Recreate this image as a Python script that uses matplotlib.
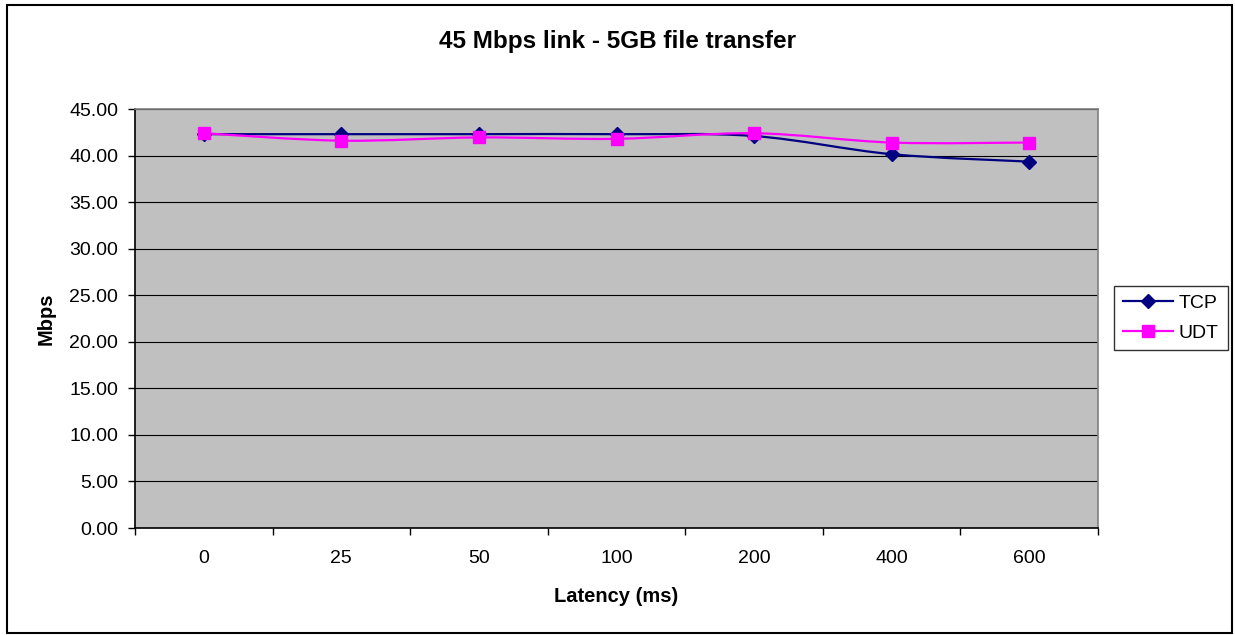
import matplotlib.pyplot as plt
from matplotlib.path import Path
from matplotlib.patches import PathPatch, Rectangle
from matplotlib.lines import Line2D

plt.rcParams['font.family'] = ['Liberation Sans', 'DejaVu Sans']

latency = ["0", "25", "50", "100", "200", "400", "600"]
tcp = [42.3, 42.3, 42.3, 42.3, 42.1, 40.15, 39.35]
udt = [42.4, 41.6, 41.95, 41.8, 42.4, 41.4, 41.4]

tcp_color = "#000080"
udt_color = "#FF00FF"


def smooth_path(xs, ys):
    # Excel-like smoothed line: Catmull-Rom converted to cubic Bezier segments
    pts = list(zip(xs, ys))
    verts = [pts[0]]
    codes = [Path.MOVETO]
    n = len(pts)
    for i in range(n - 1):
        p0 = pts[i - 1] if i > 0 else pts[i]
        p1 = pts[i]
        p2 = pts[i + 1]
        p3 = pts[i + 2] if i + 2 < n else pts[i + 1]
        c1 = (p1[0] + (p2[0] - p0[0]) / 6, p1[1] + (p2[1] - p0[1]) / 6)
        c2 = (p2[0] - (p3[0] - p1[0]) / 6, p2[1] - (p3[1] - p1[1]) / 6)
        verts += [c1, c2, p2]
        codes += [Path.CURVE4] * 3
    return Path(verts, codes)


fig = plt.figure(figsize=(12.35, 6.35), dpi=100)
ax = fig.add_axes([0.1093, 0.1685, 0.7798, 0.6598])
ax.set_facecolor("#C0C0C0")

x = list(range(len(latency)))
for vals, color, marker, ms in [(tcp, tcp_color, "D", 7.5), (udt, udt_color, "s", 8.5)]:
    ax.add_patch(PathPatch(smooth_path(x, vals), facecolor="none",
                           edgecolor=color, linewidth=1.6, zorder=3))
    ax.plot(x, vals, linestyle="none", marker=marker, markersize=ms,
            color=color, zorder=4)

ax.set_xlim(-0.5, len(latency) - 0.5)
ax.set_ylim(0, 45)
ax.set_yticks([i * 5 for i in range(10)])
ax.set_yticklabels([f"{i * 5:.2f}" for i in range(10)])
ax.set_xticks([i - 0.5 for i in range(len(latency) + 1)])
ax.set_xticklabels([])
ax.set_xticks(x, minor=True)
ax.set_xticklabels(latency, minor=True)
ax.tick_params(axis="x", which="minor", length=0, pad=16, labelsize=14)
ax.tick_params(axis="x", which="major", direction="out", length=5, width=1)
ax.tick_params(axis="y", direction="out", length=5, width=1, labelsize=14, pad=7)

ax.grid(axis="y", color="black", linewidth=0.8)
ax.set_axisbelow(True)
for side in ["top", "right"]:
    ax.spines[side].set_color("#808080")
    ax.spines[side].set_linewidth(1.2)
for side in ["left", "bottom"]:
    ax.spines[side].set_color("black")
    ax.spines[side].set_linewidth(1.2)

ax.set_xlabel("Latency (ms)", fontsize=14.5, fontweight="bold", labelpad=14)
ax.set_ylabel("Mbps", fontsize=14.5, fontweight="bold", labelpad=10)
fig.text(0.5, 0.935, "45 Mbps link - 5GB file transfer", ha="center", va="center",
         fontsize=17.5, fontweight="bold")

handles = [
    Line2D([], [], color=tcp_color, marker="D", markersize=7.5, linewidth=1.6),
    Line2D([], [], color=udt_color, marker="s", markersize=8.5, linewidth=1.6),
]
leg = fig.legend(handles, ["TCP", "UDT"], loc="center", bbox_to_anchor=(0.948, 0.499),
                 fontsize=14, frameon=True, fancybox=False, edgecolor="black",
                 handlelength=2.6, handletextpad=0.3, borderpad=0.45, labelspacing=0.6,
                 borderaxespad=0)
leg.get_frame().set_linewidth(1.0)

fig.patches.append(Rectangle((7 / 1235, 2 / 635), 1225 / 1235, 628 / 635,
                             transform=fig.transFigure, fill=False,
                             edgecolor="black", linewidth=1.5))

fig.savefig("out.png", dpi=100)
